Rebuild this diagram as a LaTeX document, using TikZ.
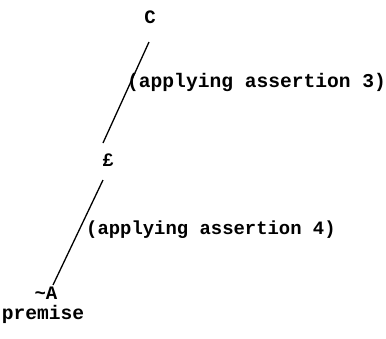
\documentclass[tikz,border=0pt]{standalone}
\usepackage{fontspec}
\setmonofont{Liberation Mono}
\tikzset{
  lbl/.style={font=\ttfamily\bfseries\fontsize{19.6}{21}\selectfont, inner sep=0pt, anchor=west},
  sym/.style={font=\ttfamily\bfseries\fontsize{19}{21}\selectfont, inner sep=1pt},
  edge/.style={line width=1.3pt}
}
\begin{document}
\begin{tikzpicture}[x=1pt,y=-1pt]
\useasboundingbox (0,0) rectangle (386,338);
\node[sym] (C) at (150,17) {C};
\node[sym] (E) at (108,160) {£};
\node[sym] (A) at (46,293) {\textasciitilde A};
\node[lbl, anchor=center] (P) at (43,314) {premise};
\draw[edge] ([xshift=-1pt,yshift=-25pt]C.center) -- ([xshift=-5pt,yshift=17pt]E.center);
\draw[edge] ([xshift=-5pt,yshift=-20pt]E.center) -- ([xshift=7pt,yshift=8pt]A.center);
\node[lbl] (L3) at (127,82) {(applying assertion 3)};
\node[lbl, font=\ttfamily\bfseries\fontsize{18.9}{21}\selectfont] (L4) at (86,230) {(applying assertion 4)};
\end{tikzpicture}
\end{document}
